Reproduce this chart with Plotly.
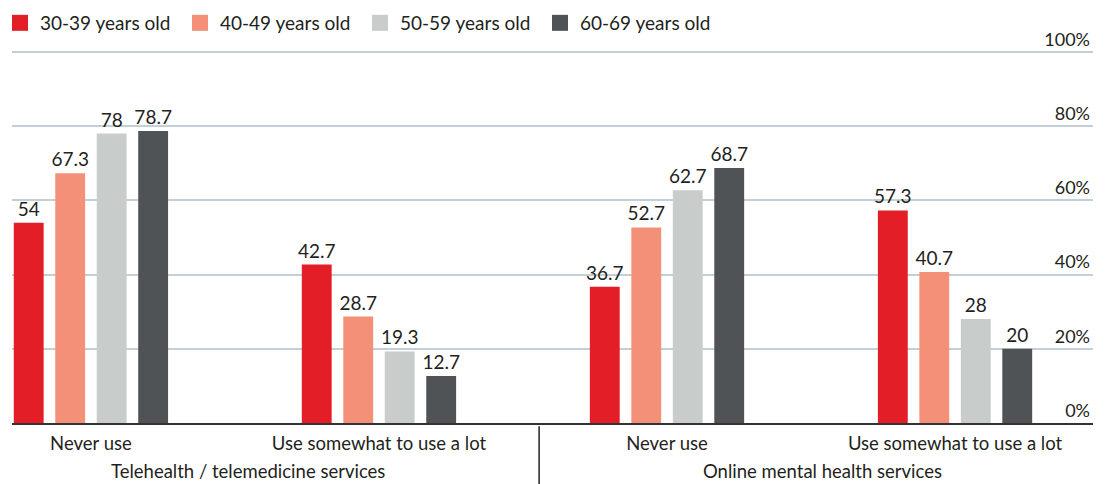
import plotly.graph_objects as go

groups = ["Telehealth / telemedicine services", "Online mental health services"]
subcats = ["Never use", "Use somewhat to use a lot", "Never use", "Use somewhat to use a lot"]
series = ["30-39 years old", "40-49 years old", "50-59 years old", "60-69 years old"]
v3039 = [54, 42.7, 36.7, 57.3]
v4049 = [67.3, 28.7, 52.7, 40.7]
v5059 = [78, 19.3, 62.7, 28]
v6069 = [78.7, 12.7, 68.7, 20]
colors = ["#e31e26", "#f59078", "#c8cccb", "#505356"]
yticks = [0, 20, 40, 60, 80, 100]
yticktext = ["0%", "20%", "40%", "60%", "80%", "100%"]

FONT = "Lato"
TXT = "#231f20"
xpos = list(range(len(subcats)))

fig = go.Figure()
for name, vals, col in zip(series, [v3039, v4049, v5059, v6069], colors):
    fig.add_trace(go.Bar(
        x=xpos, y=vals, name=name, marker=dict(color=col, line=dict(width=0)),
        text=[f"{v:g}" for v in vals], textposition="outside", cliponaxis=False,
        constraintext="none",
        textfont=dict(size=19, color=TXT, family=FONT), showlegend=False,
        hoverinfo="skip",
    ))
    fig.add_trace(go.Scatter(
        x=[None], y=[None], mode="markers", name=name,
        marker=dict(symbol="square", size=16, color=col), showlegend=True,
    ))

fig.update_layout(
    width=1109, height=484,
    margin=dict(l=12, r=16, t=26, b=61, autoexpand=False),
    paper_bgcolor="white", plot_bgcolor="white",
    font=dict(family=FONT, size=18, color=TXT),
    barmode="group", bargap=0.424, bargroupgap=0.28,
    legend=dict(orientation="h", xref="container", yref="container",
                x=0.0, xanchor="left", y=0.9525, yanchor="middle",
                font=dict(size=19, family=FONT, color=TXT), itemsizing="trace",
                entrywidth=135, entrywidthmode="pixels", tracegroupgap=0),
    xaxis=dict(range=[-0.274, 3.479], tickmode="array", tickvals=xpos, ticktext=subcats,
               showline=True, linecolor="#333333", linewidth=2, showgrid=False,
               zeroline=False, ticks="", ticklabelstandoff=3,
               tickfont=dict(size=18.5, family=FONT, color=TXT)),
    yaxis=dict(range=[0, 107], side="right", tickmode="array", tickvals=yticks,
               ticktext=yticktext, ticklabelposition="inside top", showgrid=True,
               gridcolor="#c3cfd6", gridwidth=1.5, zeroline=False, showline=False,
               tickfont=dict(size=18, family=FONT, color=TXT)),
)

for gx, g in zip([0.545, 2.54], groups):
    fig.add_annotation(x=gx, xref="x", y=-0.121, yref="paper", text=g, showarrow=False,
                       font=dict(size=18.5, family=FONT, color=TXT), yanchor="middle",
                       borderpad=0)
fig.add_shape(type="line", xref="x", yref="paper", x0=1.556, x1=1.556, y0=-0.008, y1=-0.16,
              line=dict(color="#231f20", width=1.5))

fig.write_html("out.html")
